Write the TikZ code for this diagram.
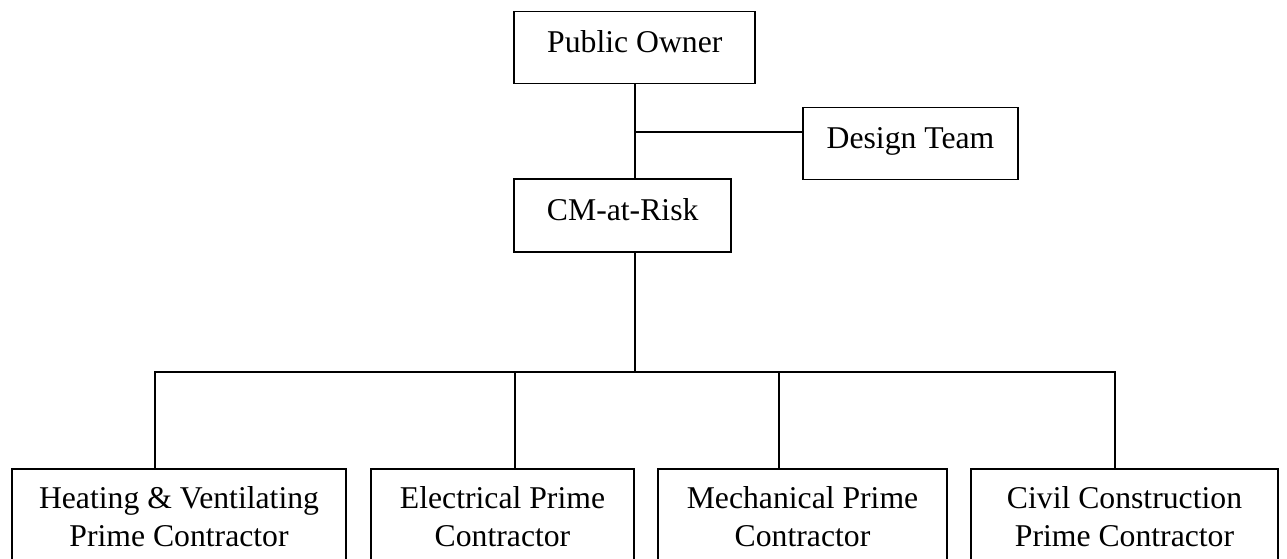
\documentclass[tikz,border=0pt]{standalone}
\usepackage{fontspec}
\setmainfont{Liberation Serif}
\begin{document}
\begin{tikzpicture}[x=1pt,y=-1pt,line width=1.8pt,
	top_box/.style={rectangle,draw,inner sep=0pt,minimum height=72pt,text height=22pt,text depth=11.6pt,font=\fontsize{31.7}{37.7}\selectfont},
	low_box/.style={rectangle,draw,anchor=north,align=center,inner xsep=0pt,inner ysep=18pt,text depth=100pt,font=\fontsize{31.7}{37.7}\selectfont}]

		\useasboundingbox (0,0) rectangle (1287,559);
		\clip (0,0) rectangle (1287,559);

		\node[top_box,minimum width=241pt] (po) at (634.8,47.5) {Public Owner};
		\node[top_box,minimum width=215.6pt] (dt) at (910.5,143.5) {Design Team};
		\node[top_box,minimum width=216.7pt,minimum height=72.4pt] (cm) at (622.7,215.5) {CM-at-Risk};

		\node[low_box,minimum width=334pt] (hv) at (179,468) {Heating \& Ventilating\\Prime Contractor};
		\node[low_box,minimum width=263.6pt] (el) at (502.5,468) {Electrical Prime\\Contractor};
		\node[low_box,minimum width=288.7pt] (me) at (802.5,468) {Mechanical Prime\\Contractor};
		\node[low_box,minimum width=307pt] (cc) at (1124.5,468) {Civil Construction\\Prime Contractor};

		\coordinate (branch) at (634.8,131.7);
		\coordinate (bus) at (634.8,371.7);
		\coordinate (d1) at (155,371.7);
		\coordinate (d2) at (515,371.7);
		\coordinate (d3) at (779,371.7);
		\coordinate (d4) at (1115,371.7);

		\draw (po.south) -- (po.south |- cm.north);
		\draw (branch) -- (branch -| dt.west);
		\draw (po.south |- cm.south) -- (bus);
		\draw (d1 |- hv.north) -- (d1) -- (d4) -- (d4 |- cc.north);
		\draw (d2) -- (d2 |- el.north);
		\draw (d3) -- (d3 |- me.north);
		\end{tikzpicture}
\end{document}
